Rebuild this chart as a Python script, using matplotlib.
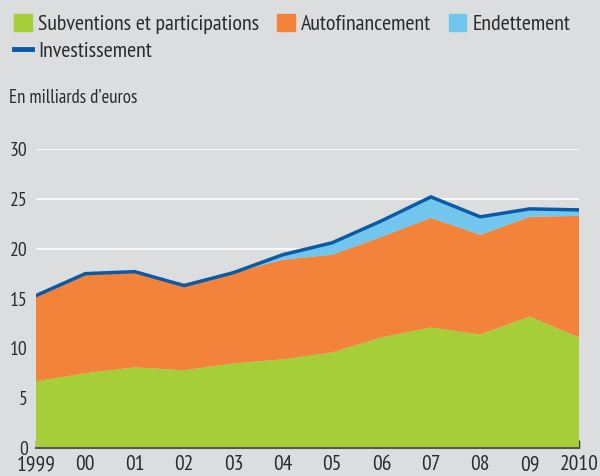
import matplotlib.pyplot as plt
import matplotlib.patches as mpatches
from matplotlib.lines import Line2D

years = [1999, 2000, 2001, 2002, 2003, 2004, 2005, 2006, 2007, 2008, 2009, 2010]
year_labels = ["1999", "00", "01", "02", "03", "04", "05", "06", "07", "08", "09", "2010"]

subventions = [6.7, 7.5, 8.1, 7.8, 8.5, 8.9, 9.6, 11.1, 12.1, 11.4, 13.2, 11.1]
autofinancement = [8.5, 9.9, 9.6, 8.7, 9.1, 10.0, 9.8, 10.1, 11.0, 10.0, 10.0, 12.2]
endettement = [0.0, 0.0, 0.0, 0.0, 0.0, 0.5, 1.2, 1.6, 2.1, 1.8, 0.8, 0.6]
investissement = [15.3, 17.5, 17.7, 16.3, 17.6, 19.4, 20.6, 22.8, 25.2, 23.2, 24.0, 23.9]

GREEN = "#a6ce39"
ORANGE = "#f3833a"
LIGHTBLUE = "#72c6ee"
DARKBLUE = "#0b5aa5"
BG = "#dcdddf"
TXT = "#2b2b2b"

plt.rcParams["font.family"] = ["PT Sans Narrow", "DejaVu Sans"]

fig = plt.figure(figsize=(6.0, 4.76), dpi=100, facecolor=BG)
ax = fig.add_axes([0.06, 0.0588, 0.905, 0.628])
ax.set_facecolor(BG)

ax.stackplot(years, subventions, autofinancement, endettement,
             colors=[GREEN, ORANGE, LIGHTBLUE], linewidth=0)
ax.plot(years, investissement, color=DARKBLUE, linewidth=2.5)

ax.set_xlim(1999, 2010)
ax.set_ylim(0, 30)
ax.set_yticks([0, 5, 10, 15, 20, 25, 30])
ax.set_xticks(years)
ax.set_xticklabels(year_labels)
ax.grid(axis="y", color="white", linewidth=1.2)
ax.set_axisbelow(True)
for s in ["top", "right", "left"]:
    ax.spines[s].set_visible(False)
ax.spines["bottom"].set_color("#555555")
ax.spines["bottom"].set_linewidth(1.5)
ax.spines["bottom"].set_zorder(5)
ax.tick_params(axis="y", length=0, labelsize=14, labelcolor=TXT, pad=6)
ax.tick_params(axis="x", direction="in", length=6, width=1, color="#333333",
               labelsize=15.5, labelcolor=TXT, pad=5)

handles = [
    mpatches.Patch(color=GREEN, label="Subventions et participations"),
    Line2D([], [], color=DARKBLUE, linewidth=3.5, label="Investissement"),
    mpatches.Patch(color=ORANGE, label="Autofinancement"),
    mpatches.Patch(color=LIGHTBLUE, label="Endettement"),
]
fig.legend(handles=handles, ncol=3, loc="upper left", bbox_to_anchor=(0.0, 1.0),
           frameon=False, fontsize=15.8, handlelength=0.8, handleheight=0.8,
           handletextpad=0.3, columnspacing=0.8, labelspacing=0.3,
           borderaxespad=0.25, labelcolor=TXT)

fig.text(0.015, 0.794, "En milliards d\u2019euros", fontsize=13.5, color=TXT, va="center")

fig.savefig("out.png", dpi=100, facecolor=BG)
